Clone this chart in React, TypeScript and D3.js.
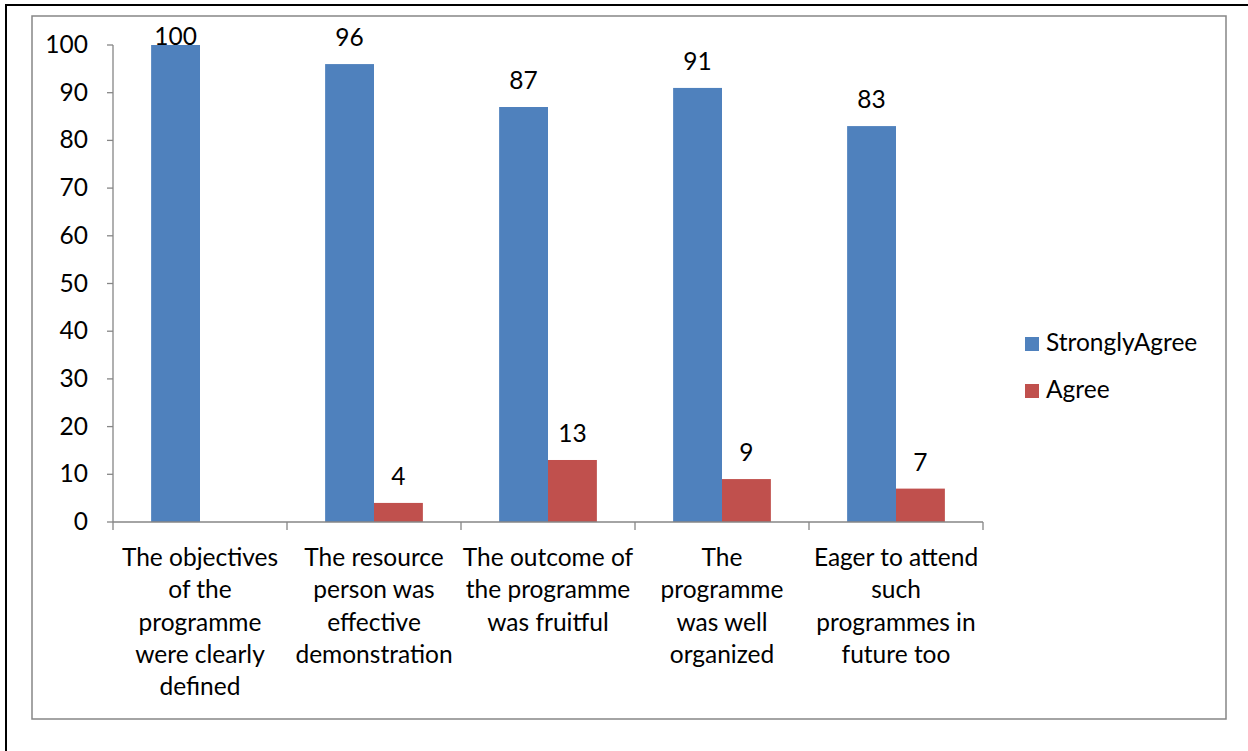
import React from 'react';
import * as d3 from 'd3';

// Survey responses (percent)
const categories: string[][] = [
    ['The objectives', 'of the', 'programme', 'were clearly', 'defined'],
    ['The resource', 'person was', 'effective', 'demonstration'],
    ['The outcome of', 'the programme', 'was fruitful'],
    ['The', 'programme', 'was well', 'organized'],
    ['Eager to attend', 'such', 'programmes in', 'future too'],
];
const seriesNames = ['StronglyAgree', 'Agree'];
const stronglyAgree: (number | null)[] = [100, 96, 87, 91, 83];
const agree: (number | null)[] = [null, 4, 13, 9, 7];
const yTicks = [0, 10, 20, 30, 40, 50, 60, 70, 80, 90, 100];

const colors = ['#4F81BD', '#C0504D'];
const axisColor = '#868686';
const font = "Lato, 'Open Sans', sans-serif";
const fontSize = 24.5;

export default function App() {
    const width = 1248;
    const height = 751;
    const plot = { left: 113, right: 983, top: 45, bottom: 522 };

    const x0 = d3.scaleBand<number>()
        .domain(categories.map((_, i) => i))
        .range([plot.left, plot.right])
        .padding(0);
    const x1 = d3.scaleBand<string>()
        .domain(seriesNames)
        .range([0, x0.bandwidth()])
        .paddingInner(0)
        .paddingOuter(0.78);
    const y = d3.scaleLinear().domain([0, 100]).range([plot.bottom, plot.top]);

    const series = [stronglyAgree, agree];
    const boundaries = d3.range(categories.length + 1).map(i => plot.left + i * x0.step());

    return (
        <div style={{ position: 'absolute', left: 0, top: 0 }}>
            <svg width={width} height={height} style={{ display: 'block', background: '#fff' }}
                fontFamily={font}>
                {/* page frame */}
                <rect x={6} y={5} width={width + 20} height={height + 20} fill="none" stroke="#000" strokeWidth={2} />
                {/* chart area frame */}
                <rect x={32} y={16} width={1194} height={703} fill="none" stroke={axisColor} strokeWidth={1.5} />

                {/* bars */}
                {series.map((vals, s) => vals.map((v, i) => v == null ? null : (
                    <rect key={`b${s}-${i}`}
                        x={x0(i)! + x1(seriesNames[s])!}
                        y={y(v)}
                        width={x1.bandwidth()}
                        height={y(0) - y(v)}
                        fill={colors[s]} />
                )))}

                {/* value labels */}
                {series.map((vals, s) => vals.map((v, i) => v == null ? null : (
                    <text key={`l${s}-${i}`}
                        x={x0(i)! + x1(seriesNames[s])! + x1.bandwidth() / 2}
                        y={Math.max(y(v) - 18, 45)}
                        textAnchor="middle" fontSize={fontSize} fill="#000">
                        {v}
                    </text>
                )))}

                {/* y axis */}
                <line x1={plot.left} x2={plot.left} y1={y(100)} y2={y(0)} stroke={axisColor} strokeWidth={1.3} />
                {yTicks.map(t => (
                    <g key={`yt${t}`}>
                        <line x1={plot.left - 6} x2={plot.left} y1={y(t)} y2={y(t)} stroke={axisColor} strokeWidth={1.3} />
                        <text x={88} y={y(t) + 8} textAnchor="end" fontSize={fontSize} fill="#000">{t}</text>
                    </g>
                ))}

                {/* x axis */}
                <line x1={plot.left} x2={plot.right} y1={y(0)} y2={y(0)} stroke={axisColor} strokeWidth={1.3} />
                {boundaries.map((bx, i) => (
                    <line key={`xt${i}`} x1={bx} x2={bx} y1={y(0)} y2={y(0) + 8} stroke={axisColor} strokeWidth={1.3} />
                ))}
                {categories.map((lines, i) => (
                    <text key={`xl${i}`} x={x0(i)! + x0.bandwidth() / 2} y={566}
                        textAnchor="middle" fontSize={fontSize} fill="#000">
                        {lines.map((ln, j) => (
                            <tspan key={j} x={x0(i)! + x0.bandwidth() / 2} y={566 + j * 32.3}>{ln}</tspan>
                        ))}
                    </text>
                ))}

                {/* legend */}
                {seriesNames.map((name, s) => (
                    <g key={`lg${s}`} transform={`translate(1025, ${337 + s * 47})`}>
                        <rect x={0} y={0} width={14} height={14} fill={colors[s]} />
                        <text x={21} y={14} fontSize={fontSize} fill="#000">{name}</text>
                    </g>
                ))}
            </svg>
        </div>
    );
}
